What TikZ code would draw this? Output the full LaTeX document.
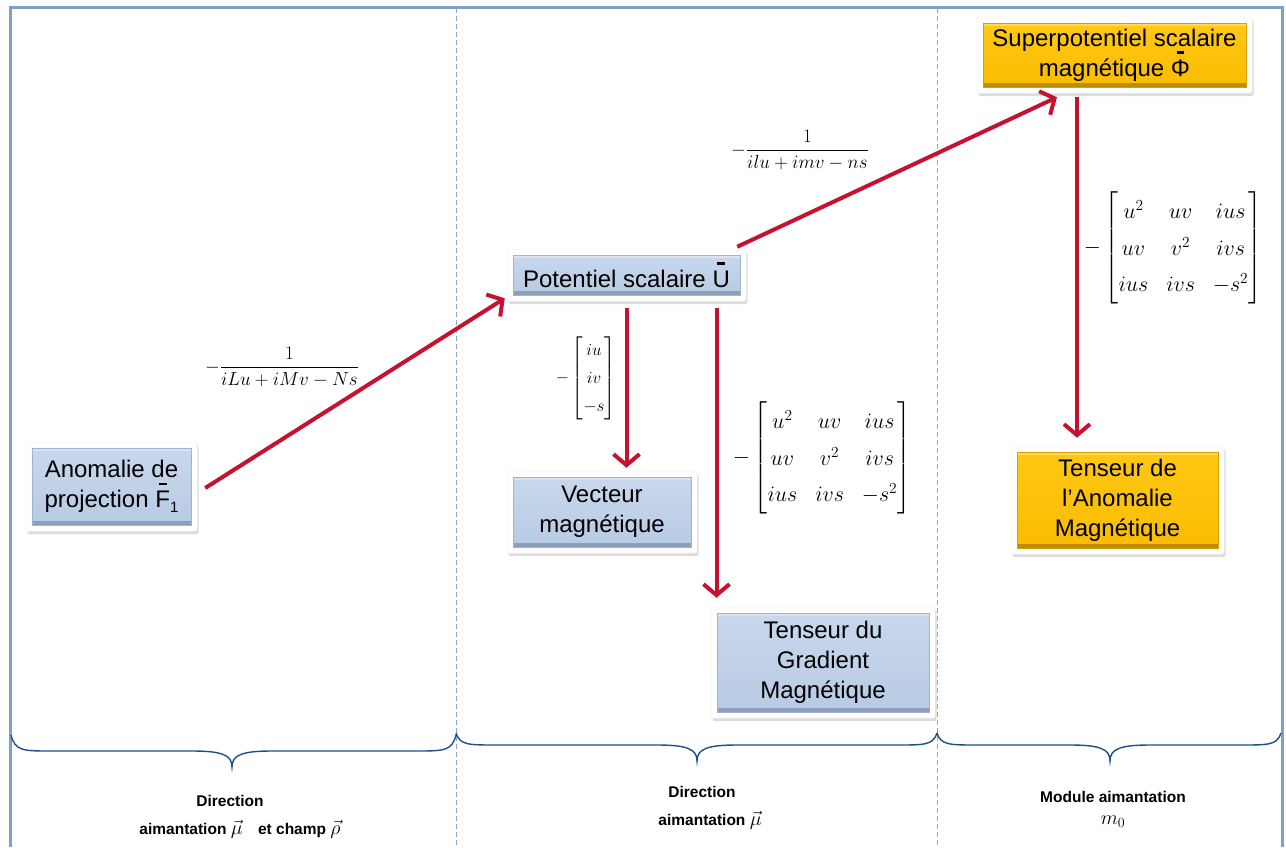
\RequirePackage{fix-cm}
\documentclass[tikz,border=0pt]{standalone}
\usepackage{amsmath}
\usepackage[no-math]{fontspec}
\setmainfont{Liberation Sans}
\usetikzlibrary{arrows.meta,shadows,calc}

\definecolor{frameblue}{RGB}{127,161,199}
\definecolor{dashblue}{RGB}{138,166,200}
\definecolor{bracec}{RGB}{31,78,140}
\definecolor{arrred}{RGB}{196,18,48}
\definecolor{bluetop}{RGB}{200,215,236}
\definecolor{bluebot}{RGB}{184,203,228}
\definecolor{bluedark}{RGB}{140,160,190}
\definecolor{blueedge}{RGB}{160,178,204}
\definecolor{ortop}{RGB}{255,200,20}
\definecolor{orbot}{RGB}{250,188,0}
\definecolor{ordark}{RGB}{190,140,0}
\definecolor{oredge}{RGB}{215,160,0}

\newcommand\nodefont{\fontsize{24}{30}\selectfont}
\newcommand\botfont{\fontsize{15.5}{18}\selectfont\bfseries}
\newcommand\mfs{\fontsize{20}{22}\selectfont}
\newcommand\barred[1]{{\setbox0\hbox{#1}\rlap{\hbox to\wd0{\hss\rule[0.93em]{0.32em}{0.11em}\hss}}\box0}}
\newcommand\bigmat{{\fontsize{22}{26}\selectfont\arraycolsep=9pt\renewcommand\arraystretch{1.4}$-\begin{bmatrix} u^2 & uv & ius\\ uv & v^2 & ivs\\ ius & ivs & -s^2\end{bmatrix}$}}

\tikzset{
  boxfr/.style={fill=white, draw=black!6, line width=0.5pt, rounded corners=2pt, inner sep=0pt,
    drop shadow={opacity=0.28, shadow xshift=1.5pt, shadow yshift=-3pt}},
  bluebox/.style={top color=bluetop, bottom color=bluebot, draw=blueedge, line width=0.6pt,
    inner sep=0pt, align=center, font=\nodefont,
    path picture={
      \fill[bluedark] (path picture bounding box.south west) rectangle ([yshift=4pt]path picture bounding box.south east);
      \fill[white,opacity=0.35] ([yshift=-3pt]path picture bounding box.north west) rectangle (path picture bounding box.north east);
    }},
  orbox/.style={top color=ortop, bottom color=orbot, draw=oredge, line width=0.6pt,
    inner sep=0pt, align=center, font=\nodefont,
    path picture={
      \fill[ordark] (path picture bounding box.south west) rectangle ([yshift=4pt]path picture bounding box.south east);
      \fill[white,opacity=0.3] ([yshift=-3pt]path picture bounding box.north west) rectangle (path picture bounding box.north east);
    }},
  arr/.style={draw=arrred, line width=4pt, -{Straight Barb[length=11pt,width=26pt]}},
  frameline/.style={draw=frameblue, line width=3pt},
  sep/.style={draw=dashblue, line width=1pt, dash pattern=on 5pt off 3pt},
  bracel/.style={draw=bracec, line width=1.4pt},
  mlabel/.style={inner sep=0pt},
  blabel/.style={inner sep=0pt, font=\botfont}
}

\newcommand\boxnode[7]{%
  \node[boxfr, minimum width={(#4+12)*1pt}, minimum height={(#5+12)*1pt}] (#1o) at (#2,#3) {};
  \node[#6, minimum width={#4*1pt}, minimum height={#5*1pt}] (#1) at (#2,#3) {#7};}

\newcommand\bracepath[5]{%
  \draw[bracel] (#1,#3) .. controls (#1+4,#4) and (#1+12,#4) .. (#1+40,#4)
    -- (#5-40,#4) .. controls (#5-10,#4) and (#5,#4+4) .. (#5,#4+16)
    .. controls (#5,#4+4) and (#5+10,#4) .. (#5+40,#4)
    -- (#2-40,#4) .. controls (#2-12,#4) and (#2-4,#4) .. (#2,#3);}

\begin{document}
\begin{tikzpicture}[x=1pt,y=-1pt]
\useasboundingbox (0,0) rectangle (1286,847);

% frame and separators
\draw[sep] (456,8) -- (456,847);
\draw[sep] (937,8) -- (937,847);
\draw[frameline] (10,847) -- (10,7) -- (1282,7) -- (1282,847);

% braces
\bracepath{11}{456}{735}{751}{232}
\bracepath{456}{937}{733}{745}{697}
\bracepath{937}{1281}{733}{745}{1110}

% boxes
\boxnode{n1}{111.5}{486.5}{159}{77}{bluebox}{Anomalie de\\projection \barred{F}{\fontsize{15}{15}\selectfont\raisebox{-0.3em}{1}}}
\boxnode{n2}{626.5}{275}{227}{40}{bluebox}{Potentiel scalaire \barred{U}}
\boxnode{n3}{1114.5}{55}{263}{64}{orbox}{Superpotentiel scalaire\\magnétique \barred{Φ}}
\boxnode{n4}{602}{512}{178}{70}{bluebox}{Vecteur\\magnétique}
\boxnode{n5}{823}{662.5}{212}{99}{bluebox}{Tenseur du\\Gradient\\Magnétique}
\boxnode{n6}{1117.5}{500}{201}{96}{orbox}{Tenseur de\\l’Anomalie\\Magnétique}

% arrows
\draw[arr] ($(n1o.east)+(8,1.5)$) -- ($(n2o.south west)+(-2,-3)$);
\draw[arr] ($(n2o.north east)+(-9,-2)$) -- ($(n3o.south)+(-57.5,4)$);
\draw[arr] ($(n2o.south)+(0,7)$) -- ($(n2o.south |- n4o.north)+(0,-3)$);
\coordinate (a4) at ($(n2o.south)+(90,7)$);
\draw[arr] (a4) -- ($(a4 |- n5o.north)+(0,-9)$);
\coordinate (a5) at ($(n3o.south)+(-37.5,4)$);
\draw[arr] (a5) -- ($(a5 |- n6o.north)+(0,-8)$);

% math labels
\node[mlabel] (l1) at (282,367) {\fontsize{19}{22}\selectfont $-\dfrac{1}{iLu+iMv-Ns}$};
\node[mlabel] (l2) at (800,150) {\fontsize{19}{22}\selectfont $-\dfrac{1}{ilu+imv-ns}$};
\node[mlabel] (vv) at (586,378) {\fontsize{17}{19}\selectfont\renewcommand\arraystretch{1.45}$-\begin{bmatrix} iu\\ iv\\ -s\end{bmatrix}$};
\node[mlabel] (m1) at (822,458) {\bigmat};
\node[mlabel] (m2) at (1173,248) {\bigmat};

% bottom labels
\node[blabel] (b1a) at (230,801) {Direction};
\node[blabel] (b1b) at (240,829) {aimantation {\mfs$\vec{\mu}$}\quad et champ {\mfs$\vec{\rho}$}};
\node[blabel] (b2a) at (702,792) {Direction};
\node[blabel] (b2b) at (710,820) {aimantation {\mfs$\vec{\mu}$}};
\node[blabel] (b3a) at (1113,797) {Module aimantation};
\node[mlabel] (b3b) at (1113,822) {\mfs$m_0$};
\end{tikzpicture}
\end{document}
